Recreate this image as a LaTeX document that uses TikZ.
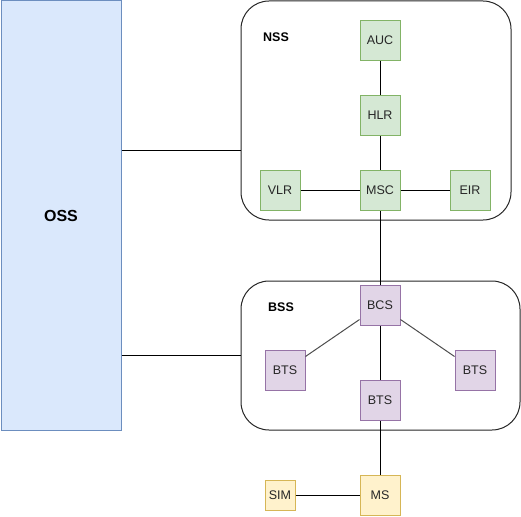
\documentclass[tikz,border=0pt]{standalone}
\usepackage{fontspec}
\setmainfont{Liberation Sans}
\usepackage[HTML]{xcolor}
\usepackage{tikz}
\usetikzlibrary{positioning}

\definecolor{ossfill}{HTML}{DAE8FC}
\definecolor{ossline}{HTML}{6C8EBF}
\definecolor{nssfill}{HTML}{D5E8D4}
\definecolor{nssline}{HTML}{82B366}
\definecolor{bssfill}{HTML}{E1D5E7}
\definecolor{bssline}{HTML}{9673A6}
\definecolor{msfill}{HTML}{FFF2CC}
\definecolor{msline}{HTML}{D6B656}

\tikzset{
  unit/.style={draw, line width=1pt, minimum width=40pt, minimum height=40pt,
    inner sep=0pt, font=\fontsize{12.5}{14}\selectfont, text=black!85},
  nssunit/.style={unit, fill=nssfill, draw=nssline},
  bssunit/.style={unit, fill=bssfill, draw=bssline},
  msunit/.style={unit, fill=msfill, draw=msline},
  subsys/.style={draw=black!85, line width=1pt, rounded corners=28pt},
  title/.style={font=\fontsize{12.5}{14}\selectfont\bfseries},
  link/.style={line width=1pt}
}

\begin{document}
\begin{tikzpicture}[x=1pt, y=-1pt]
\useasboundingbox (0,0) rectangle (521,516);
% subsystems
\node[draw=ossline, fill=ossfill, line width=1pt, minimum width=120pt, minimum height=429pt, inner sep=0pt, anchor=north west,
  font=\fontsize{16}{18}\selectfont\bfseries] (OSS) at (0.5,0.5) {OSS};
\node[subsys, minimum width=270pt, minimum height=219pt, anchor=north west] (NSS) at (240.5,0.5) {};
\node[subsys, minimum width=279pt, minimum height=149pt, anchor=north west] (BSS) at (240.5,280.5) {};
\node[title] (NSSlbl) at (276,37) {NSS};
\node[title] (BSSlbl) at (281,307) {BSS};
% NSS units
\node[nssunit] (AUC) at (380,40.5) {AUC};
\node[nssunit] (HLR) at (380,115.5) {HLR};
\node[nssunit] (MSC) at (380,190.5) {MSC};
\node[nssunit] (VLR) at (280,190.5) {VLR};
\node[nssunit] (EIR) at (470,190.5) {EIR};
% BSS units
\node[bssunit] (BCS) at (380,305.5) {BCS};
\node[bssunit] (BTSl) at (285,370.5) {BTS};
\node[bssunit] (BTSm) at (380,400.5) {BTS};
\node[bssunit] (BTSr) at (475,370.5) {BTS};
% mobile station
\node[msunit] (MS) at (380,495.5) {MS};
\node[msunit, minimum width=30pt, minimum height=30pt] (SIM) at (280,495.5) {SIM};
% links
\draw[link] (OSS.east |- 0,150) -- (NSS.west |- 0,150);
\draw[link] (OSS.east |- 0,355.5) -- (BSS.west |- 0,355.5);
\draw[link] (AUC)--(HLR);
\draw[link] (HLR)--(MSC);
\draw[link] (VLR)--(MSC);
\draw[link] (MSC)--(EIR);
\draw[link] (MSC)--(BCS);
\draw[link, draw=black!70] (BCS)--(BTSl);
\draw[link, draw=black!70] (BCS)--(BTSr);
\draw[link] (BCS)--(BTSm);
\draw[link] (BTSm)--(MS);
\draw[link] (SIM)--(MS);
\end{tikzpicture}
\end{document}
